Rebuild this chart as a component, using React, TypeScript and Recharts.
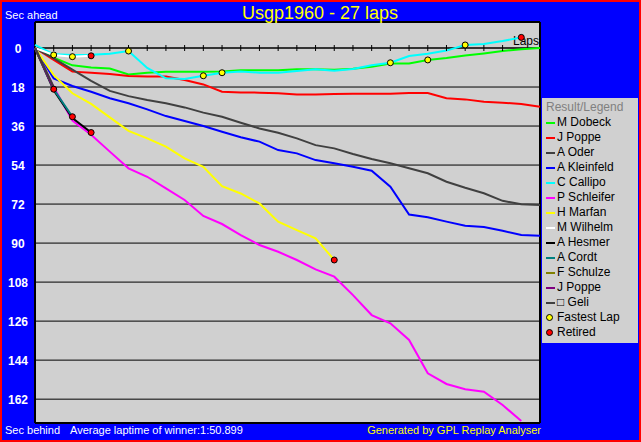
import {
  ComposedChart,
  Line,
  Scatter,
  XAxis,
  YAxis,
  CartesianGrid,
  ReferenceLine,
  ReferenceDot,
  Legend,
} from "recharts"

const FONT = '"Liberation Sans", Arial, sans-serif'

// seconds behind the winner's average pace, one value per lap (lap 0 = start)
const dobeck = [0, 4.5, 8, 9, 9.5, 12.2, 11.4, 11, 11, 10.9, 10.8, 10.3, 10.3, 10.3, 9.8, 9.8, 10, 9.6, 8.6, 7.2, 7.1, 5.5, 4.6, 3.5, 2.5, 1.4, 0.6, 0]
const poppe = [0, 5.5, 10.9, 11.4, 12, 12.9, 13.2, 13.2, 14.8, 16.8, 20.2, 20.5, 20.6, 20.9, 21.4, 21.4, 21.2, 21.1, 21.1, 21.1, 20.8, 20.8, 23.2, 23.7, 24.8, 25.2, 25.8, 27.1]
const oder = [0, 4.8, 10, 15.2, 19.8, 22.2, 24, 25.5, 27.4, 29.8, 31.7, 34.5, 37.1, 39.1, 41.7, 44.8, 46.3, 48.9, 51.2, 53.2, 55.5, 57.8, 61.7, 64.5, 67, 70.5, 72.1, 72.4]
const kleinfeld = [0, 14, 17.5, 20.2, 23.2, 25.5, 28.3, 31.4, 33.7, 36, 38.6, 41.2, 43.2, 47.1, 48.6, 51.7, 53.2, 54.8, 56.6, 64, 76.8, 78.1, 80.1, 82, 82.6, 84.3, 86.3, 86.6]
const callipo = [-1.4, 2.9, 3.2, 3.1, 2.6, 1.4, 9.2, 14, 14.3, 12.8, 11.4, 10.8, 11.4, 11.4, 10.6, 9.8, 10.5, 9.7, 8, 6.8, 3.7, 2.6, 1.2, -1.4, -1.8, -3.2, -4.9]
const schleifer = [0, 18, 33.5, 40, 47.8, 55.5, 59.4, 64.8, 70.1, 77.5, 81.2, 86.3, 90.9, 94, 97.8, 102.1, 105.5, 114, 123.2, 127, 134.7, 150.1, 155, 157.4, 158.6, 164.7, 172.1]
const marfan = [0, 12.5, 20.9, 25.8, 32, 38.2, 41.7, 45.5, 50.9, 54.8, 63.7, 67.1, 71.7, 80.1, 84, 87.8, 97.8]
const wilhelm = [0, 3.2, 4, 3.6]
const hesmer = [0, 19.5, 32.3, 39]
const cordt = [0, 19, 31.7]
const schulze = [0, 18.5]
const poppe2 = [0, 19]
const geli = [0, 18]

const fastestLaps = [1, 2, 5, 9, 10, 19, 21, 23]
const fastestSecs = [3.2, 4, 1.4, 12.8, 11.4, 6.8, 5.5, -1.4]
const retiredLaps = [1, 2, 3, 3, 16, 26]
const retiredSecs = [19, 31.7, 39, 3.6, 97.8, -4.9]

const yTicks = [0, 18, 36, 54, 72, 90, 108, 126, 144, 162]
const lapTicks = Array.from({ length: 25 }, (_, i) => i + 1)

const drivers = [
  { name: "M Dobeck", color: "#00ff00", values: dobeck },
  { name: "J Poppe", color: "#ff0000", values: poppe },
  { name: "A Oder", color: "#404040", values: oder },
  { name: "A Kleinfeld", color: "#0000ff", values: kleinfeld },
  { name: "C Callipo", color: "#00ffff", values: callipo },
  { name: "P Schleifer", color: "#ff00ff", values: schleifer },
  { name: "H Marfan", color: "#ffff00", values: marfan },
  { name: "M Wilhelm", color: "#ffffff", values: wilhelm },
  { name: "A Hesmer", color: "#000000", values: hesmer },
  { name: "A Cordt", color: "#008080", values: cordt },
  { name: "F Schulze", color: "#808000", values: schulze },
  { name: "J Poppe", color: "#800080", values: poppe2 },
  { name: "\u25a1 Geli", color: "#404040", values: geli },
]

const toPoints = (laps: number[], secs: number[]) => laps.map((lap, i) => ({ lap, v: secs[i] }))
const fastest = toPoints(fastestLaps, fastestSecs)
const retired = toPoints(retiredLaps, retiredSecs)

const marker = (fill: string) => (p: any) => (
  <circle cx={p.cx} cy={p.cy} r={3} fill={fill} stroke="#000" strokeWidth={1} />
)

const lapTick = (p: any) => (
  <line x1={p.cx} x2={p.cx} y1={p.cy - 3} y2={p.cy + 3} stroke="#000" strokeWidth={1} />
)

const yTick = (p: any) => (
  <text x={18} y={p.y} dy={4.5} textAnchor="middle" fill="#fff" fontWeight="bold" fontSize={12} fontFamily={FONT}>
    {p.payload.value}
  </text>
)

const lapsLabel = (p: any) => {
  const vb = p.viewBox || {}
  return (
    <text x={vb.x + vb.width - 1} y={vb.y - 3} textAnchor="end" fill="#000" fontSize={12} fontFamily={FONT}>
      Laps
    </text>
  )
}

function LegendBox() {
  const row = { display: "flex", alignItems: "center", height: 15, whiteSpace: "nowrap" as const }
  const dot = (c: string) => (
    <svg width={9} height={9} style={{ marginLeft: 3, marginRight: 3 }}>
      <circle cx={4.5} cy={4.5} r={3} fill={c} stroke="#000" />
    </svg>
  )
  return (
    <div
      style={{
        width: 96,
        height: 245,
        background: "#d0d0d0",
        fontFamily: FONT,
        fontSize: 12,
        color: "#000",
        paddingTop: 2,
        boxSizing: "border-box",
        lineHeight: "15px",
        textAlign: "left",
      }}
    >
      <div style={{ color: "#808080", paddingLeft: 4, height: 15 }}>Result/Legend</div>
      {drivers.map((d, i) => (
        <div key={i} style={row}>
          <span style={{ width: 9, height: 2, background: d.color, marginLeft: 4, marginRight: 2 }} />
          {d.name}
        </div>
      ))}
      <div style={row}>
        {dot("#ffff00")}
        Fastest Lap
      </div>
      <div style={row}>
        {dot("#ff0000")}
        Retired
      </div>
    </div>
  )
}

export default function App() {
  return (
    <div style={{ position: "absolute", left: 0, top: 0, width: 641, height: 442, background: "#0000ff" }}>
      <ComposedChart width={641} height={442} margin={{ top: 22, right: 101, bottom: 19, left: 0 }}>
        <CartesianGrid fill="#d0d0d0" fillOpacity={1} stroke="#000" vertical={false} />
        <XAxis type="number" dataKey="lap" domain={[0, 27]} hide />
        <YAxis
          type="number"
          domain={[-12, 173]}
          reversed
          ticks={yTicks}
          interval={0}
          axisLine={false}
          tickLine={false}
          width={35}
          tick={yTick}
        />
        <ReferenceLine x={0} stroke="#000" strokeWidth={2} />
        <ReferenceLine x={27} stroke="#000" strokeWidth={2} />
        <ReferenceLine y={-12} stroke="#000" strokeWidth={2} />
        <ReferenceLine y={173} stroke="#000" strokeWidth={2} />
        <ReferenceLine y={0} stroke="#000" label={lapsLabel} />
        {lapTicks.map((l) => (
          <ReferenceDot key={l} x={l} y={0} r={0} shape={lapTick} />
        ))}
        {drivers.map((d, i) => (
          <Line
            key={i}
            data={d.values.map((v, lap) => ({ lap, v }))}
            dataKey="v"
            type="linear"
            stroke={d.color}
            strokeWidth={2}
            dot={false}
            activeDot={false}
            isAnimationActive={false}
            legendType="line"
          />
        ))}
        <Scatter data={fastest} dataKey="v" shape={marker("#ffff00")} isAnimationActive={false} />
        <Scatter data={retired} dataKey="v" shape={marker("#ff0000")} isAnimationActive={false} />
        <Legend
          layout="vertical"
          align="center"
          verticalAlign="middle"
          content={() => <LegendBox />}
          wrapperStyle={{ left: 542, top: 98, width: 96, height: 245 }}
        />
      </ComposedChart>
      <svg
        width={641}
        height={442}
        style={{ position: "absolute", left: 0, top: 0, pointerEvents: "none" }}
        fontFamily={FONT}
      >
        <rect x={1} y={1} width={639} height={440} fill="none" stroke="#ff0000" strokeWidth={2} />
        <text x={320} y={19} textAnchor="middle" fill="#ffff00" fontSize={18}>
          Usgp1960 - 27 laps
        </text>
        <text x={5} y={19} fill="#fff" fontSize={11}>
          Sec ahead
        </text>
        <text x={5} y={434} fill="#fff" fontSize={11}>
          Sec behind
        </text>
        <text x={70} y={434} fill="#fff" fontSize={11}>
          Average laptime of winner:1:50.899
        </text>
        <text x={541} y={434} textAnchor="end" fill="#ffff00" fontSize={11}>
          Generated by GPL Replay Analyser
        </text>
      </svg>
    </div>
  )
}
